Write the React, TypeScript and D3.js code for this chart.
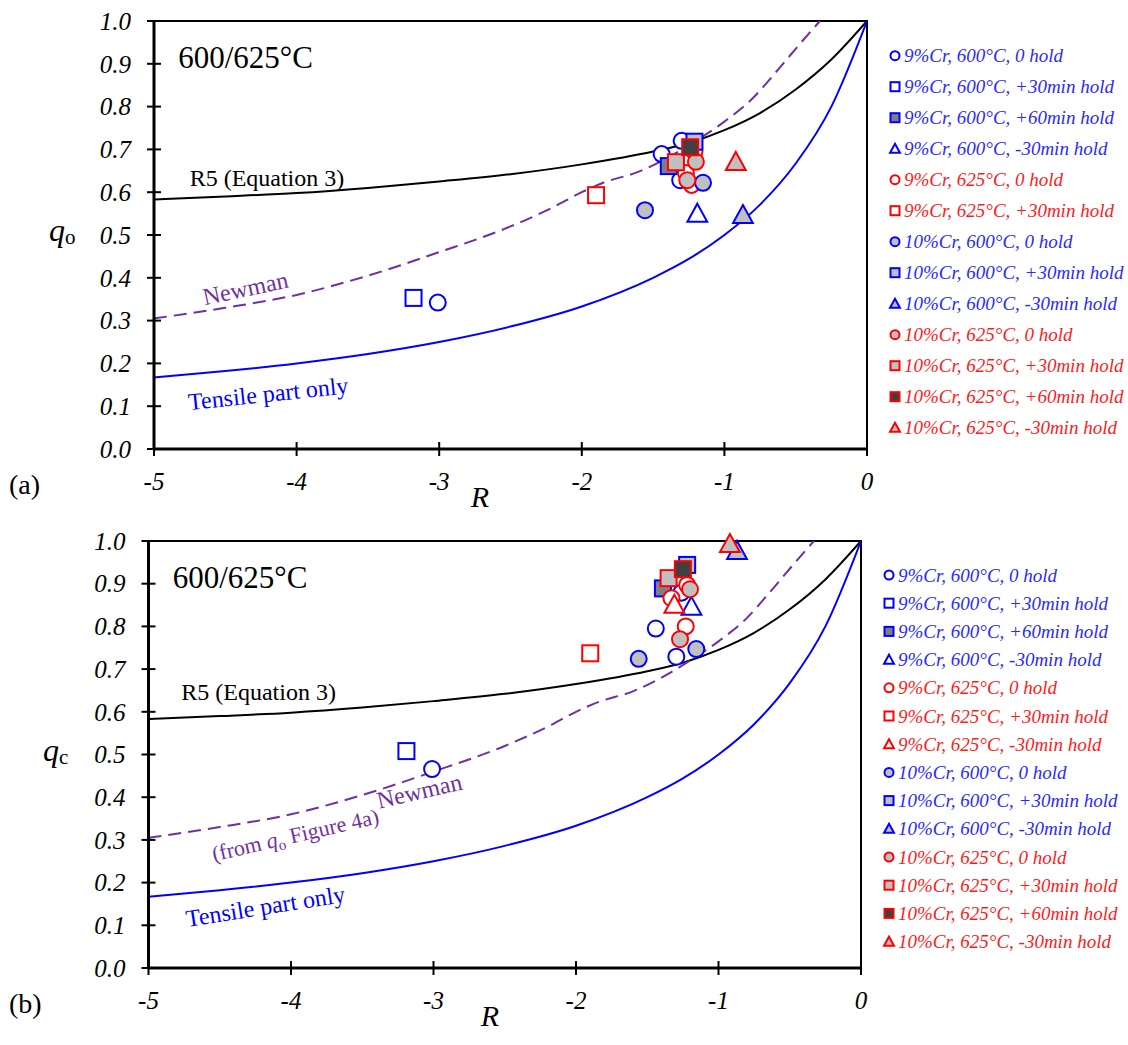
import { useEffect } from 'react'
import * as d3 from 'd3'

const W = 1128
const H = 1045
const FONT = '"Liberation Serif", "Times New Roman", serif'

const R_TICKS = [-5, -4, -3, -2, -1, 0]
const Q_TICKS = [0, 0.1, 0.2, 0.3, 0.4, 0.5, 0.6, 0.7, 0.8, 0.9, 1.0]

// reference curves
const R5_R = [-5, -4.5, -4, -3.5, -3, -2.5, -2, -1.5, -1.25, -1, -0.75, -0.5, -0.25, 0]
const R5_Q = [0.583, 0.59, 0.598, 0.61, 0.625, 0.642, 0.665, 0.695, 0.715, 0.745, 0.785, 0.84, 0.91, 1.0]

const TENSILE_R = [-5, -4.5, -4, -3.5, -3, -2.5, -2, -1.5, -1.25, -1, -0.75, -0.5, -0.25, 0]
const TENSILE_Q = [0.167, 0.182, 0.2, 0.222, 0.25, 0.286, 0.333, 0.4, 0.444, 0.5, 0.571, 0.667, 0.8, 1.0]

const NEWMAN_R = [-5, -4.5, -4, -3.5, -3, -2.5, -2.2, -2, -1.85, -1.6, -1.4, -1.2, -1, -0.8, -0.64, -0.5, -0.33]
const NEWMAN_Q = [0.305, 0.33, 0.36, 0.405, 0.46, 0.52, 0.565, 0.6, 0.622, 0.648, 0.68, 0.72, 0.765, 0.82, 0.88, 0.935, 1.0]

const SERIES_LABELS = [
  '9%Cr, 600°C, 0 hold',
  '9%Cr, 600°C, +30min hold',
  '9%Cr, 600°C, +60min hold',
  '9%Cr, 600°C, -30min hold',
  '9%Cr, 625°C, 0 hold',
  '9%Cr, 625°C, +30min hold',
  '9%Cr, 625°C, -30min hold',
  '10%Cr, 600°C, 0 hold',
  '10%Cr, 600°C, +30min hold',
  '10%Cr, 600°C, -30min hold',
  '10%Cr, 625°C, 0 hold',
  '10%Cr, 625°C, +30min hold',
  '10%Cr, 625°C, +60min hold',
  '10%Cr, 625°C, -30min hold',
]
const SERIES_SHAPE = ['circle', 'square', 'square', 'triangle', 'circle', 'square', 'triangle', 'circle', 'square', 'triangle', 'circle', 'square', 'square', 'triangle']
const SERIES_COLOR = ['#0000ff', '#0000ff', '#0000ff', '#0000ff', '#ff0000', '#ff0000', '#ff0000', '#0000ff', '#0000ff', '#0000ff', '#ff0000', '#ff0000', '#ff0000', '#ff0000']
const SERIES_FILL = ['#ffffff', '#ffffff', '#808080', '#ffffff', '#ffffff', '#ffffff', '#ffffff', '#c0c0c0', '#c0c0c0', '#c0c0c0', '#c0c0c0', '#c0c0c0', '#404040', '#c0c0c0']

// (a) q_o
const QO_R = [
  [-3.01, -1.44, -1.3, -1.31],
  [-3.18],
  [-1.39],
  [-1.19],
  [-1.23, -1.27, -1.21],
  [-1.9],
  [],
  [-1.557, -1.15],
  [-1.21],
  [-0.87],
  [-1.26, -1.2],
  [-1.34],
  [-1.24],
  [-0.92],
]
const QO_Q = [
  [0.342, 0.689, 0.72, 0.628],
  [0.353],
  [0.661],
  [0.55],
  [0.617, 0.645, 0.695],
  [0.593],
  [],
  [0.558, 0.622],
  [0.718],
  [0.547],
  [0.628, 0.671],
  [0.67],
  [0.705],
  [0.671],
]

// (b) q_c
const QC_R = [
  [-3.01, -1.44, -1.296, -1.26],
  [-3.19],
  [-1.39],
  [-1.19],
  [-1.23, -1.33, -1.22],
  [-1.9],
  [-1.31],
  [-1.56, -1.156],
  [-1.22],
  [-0.87],
  [-1.27, -1.2],
  [-1.35],
  [-1.25],
  [-0.92],
]
const QC_Q = [
  [0.466, 0.795, 0.729, 0.879],
  [0.508],
  [0.889],
  [0.846],
  [0.8, 0.866, 0.897],
  [0.737],
  [0.851],
  [0.724, 0.747],
  [0.944],
  [0.977],
  [0.77, 0.887],
  [0.913],
  [0.934],
  [0.993],
]

function Marker({ shape, x, y, s, color, fill, sw }) {
  if (shape === 'circle') {
    return <circle cx={x} cy={y} r={s / 2} fill={fill} stroke={color} strokeWidth={sw} />
  }
  if (shape === 'square') {
    return <rect x={x - s / 2} y={y - s / 2} width={s} height={s} fill={fill} stroke={color} strokeWidth={sw} />
  }
  const p = `M${x},${y - s * 0.55}L${x + s * 0.55},${y + s * 0.45}L${x - s * 0.55},${y + s * 0.45}Z`
  return <path d={p} fill={fill} stroke={color} strokeWidth={sw} strokeLinejoin="miter" />
}

function Panel({ cfg }) {
  const x = d3.scaleLinear().domain([-5, 0]).range([cfg.left, cfg.right])
  const y = d3.scaleLinear().domain([0, 1]).range([cfg.bottom, cfg.top])
  const line = d3
    .line()
    .x((d) => x(d[0]))
    .y((d) => y(d[1]))
    .curve(d3.curveMonotoneX)

  const r5 = R5_R.map((r, i) => [r, R5_Q[i]])
  const tensile = TENSILE_R.map((r, i) => [r, TENSILE_Q[i]])
  const newman = NEWMAN_R.map((r, i) => [r, NEWMAN_Q[i]])
  const legendIdx = SERIES_LABELS.map((_, i) => i).filter((i) => cfg.dataR[i].length > 0)
  const clipId = 'clip-' + cfg.id

  return (
    <g fontFamily={FONT}>
      <defs>
        <clipPath id={clipId}>
          <rect x={cfg.left} y={cfg.top - 1} width={cfg.right - cfg.left} height={cfg.bottom - cfg.top + 1} />
        </clipPath>
      </defs>

      {/* frame */}
      <rect x={cfg.left} y={cfg.top} width={cfg.right - cfg.left} height={cfg.bottom - cfg.top} fill="none" stroke="#000" strokeWidth={2} />

      {/* curves */}
      <g clipPath={`url(#${clipId})`} fill="none">
        <path d={line(r5)} stroke="#000" strokeWidth={2} />
        <path d={line(tensile)} stroke="#0000ff" strokeWidth={2} />
        <path d={line(newman)} stroke="#7030a0" strokeWidth={2} strokeDasharray="13,7" />
      </g>

      {/* axes */}
      <line x1={cfg.left} x2={cfg.left} y1={cfg.top} y2={cfg.bottom} stroke="#000" strokeWidth={3} />
      <line x1={cfg.left} x2={cfg.right} y1={cfg.bottom} y2={cfg.bottom} stroke="#000" strokeWidth={3} />
      {Q_TICKS.map((t) => (
        <g key={'q' + t}>
          <line x1={cfg.left - 7} x2={cfg.left + 7} y1={y(t)} y2={y(t)} stroke="#000" strokeWidth={2} />
          <text x={cfg.left - 23} y={y(t)} dy="0.35em" textAnchor="end" fontSize={25} fontStyle="italic">
            {d3.format('.1f')(t)}
          </text>
        </g>
      ))}
      {R_TICKS.map((t) => (
        <g key={'r' + t}>
          <line x1={x(t)} x2={x(t)} y1={cfg.bottom - 7} y2={cfg.bottom + 7} stroke="#000" strokeWidth={2} />
          <text x={x(t)} y={cfg.bottom + 41} textAnchor="middle" fontSize={25} fontStyle="italic">
            {String(t)}
          </text>
        </g>
      ))}

      {/* axis titles */}
      <text x={cfg.rX} y={cfg.bottom + 58} textAnchor="middle" fontSize={30} fontStyle="italic">
        R
      </text>
      <text x={cfg.qX} y={y(0.5) + 6} fontSize={32} fontStyle="italic">
        q
      </text>
      <text x={cfg.qX + 16} y={y(0.5) + 9} fontSize={21}>
        {cfg.sub}
      </text>
      <text x={9} y={cfg.bottom + 45} fontSize={28}>
        {cfg.tag}
      </text>

      {/* annotations */}
      <text x={x(-4.83)} y={y(0.89)} fontSize={31}>
        600/625°C
      </text>
      <text x={x(cfg.r5Lab[0])} y={y(cfg.r5Lab[1])} fontSize={24}>
        R5 (Equation 3)
      </text>
      <text transform={`translate(${x(cfg.newLab[0])},${y(cfg.newLab[1])}) rotate(${cfg.newLab[2]})`} textAnchor="middle" dy="0.35em" fontSize={24} fill="#7030a0">
        Newman
      </text>
      {cfg.fromLab && (
        <text transform={`translate(${x(cfg.fromLab[0])},${y(cfg.fromLab[1])}) rotate(${cfg.fromLab[2]})`} textAnchor="middle" dy="0.35em" fontSize={22} fill="#7030a0">
          (from <tspan fontStyle="italic">q</tspan>
          <tspan fontSize={15} dy={4}>o</tspan>
          <tspan dy={-4}> Figure 4a)</tspan>
        </text>
      )}
      <text transform={`translate(${x(cfg.tenLab[0])},${y(cfg.tenLab[1])}) rotate(${cfg.tenLab[2]})`} textAnchor="middle" dy="0.35em" fontSize={24} fill="#0000ff">
        Tensile part only
      </text>

      {/* data points */}
      {SERIES_LABELS.map((_, i) =>
        cfg.dataR[i].map((r, j) => (
          <Marker
            key={`m${i}-${j}`}
            shape={SERIES_SHAPE[i]}
            x={x(r)}
            y={y(cfg.dataQ[i][j])}
            s={SERIES_SHAPE[i] === 'triangle' ? 18 : 16}
            color={SERIES_COLOR[i]}
            fill={SERIES_FILL[i]}
            sw={2}
          />
        ))
      )}

      {/* legend */}
      {legendIdx.map((i, k) => {
        const ly = cfg.legY + k * cfg.legStep
        return (
          <g key={'l' + i}>
            <Marker shape={SERIES_SHAPE[i]} x={cfg.legX} y={ly} s={9} color={SERIES_COLOR[i]} fill={SERIES_FILL[i]} sw={2} />
            <text x={cfg.legX + 9} y={ly} dy="0.35em" fontSize={19} fontStyle="italic" fill={SERIES_COLOR[i] === '#0000ff' ? '#2a2aff' : '#ff1a1a'}>
              {SERIES_LABELS[i]}
            </text>
          </g>
        )
      })}
    </g>
  )
}

const PANELS = [
  {
    id: 'a', left: 154, right: 867, top: 21, bottom: 449, qX: 49, rX: 480, sub: 'o', tag: '(a)',
    legX: 895, legY: 55.7, legStep: 31, dataR: QO_R, dataQ: QO_Q,
    r5Lab: [-4.75, 0.614], newLab: [-4.36, 0.376, -12], tenLab: [-4.2, 0.13, -6], fromLab: null,
  },
  {
    id: 'b', left: 148.5, right: 861, top: 541, bottom: 968, qX: 43, rX: 490, sub: 'c', tag: '(b)',
    legX: 889, legY: 575, legStep: 28.2, dataR: QC_R, dataQ: QC_Q,
    r5Lab: [-4.77, 0.628], newLab: [-3.1, 0.415, -13], tenLab: [-4.18, 0.145, -9], fromLab: [-3.97, 0.312, -13],
  },
]

export default function App() {
  useEffect(() => {
    document.body.style.margin = '0'
  }, [])
  return (
    <svg width={W} height={H} style={{ display: 'block', background: '#fff' }}>
      {PANELS.map((p) => (
        <Panel key={p.id} cfg={p} />
      ))}
    </svg>
  )
}
